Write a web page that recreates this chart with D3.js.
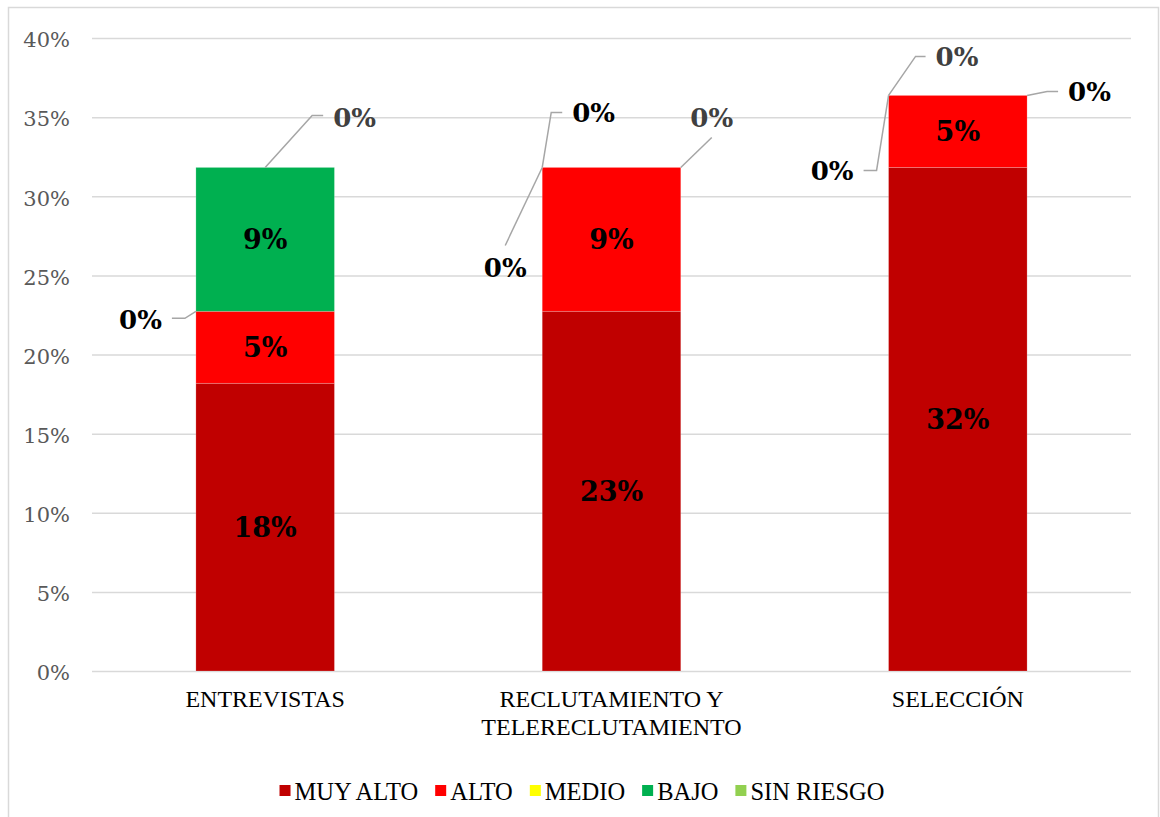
<!DOCTYPE html>
<html>
<head>
<meta charset="utf-8">
<script src="https://cdn.jsdelivr.net/npm/d3@7"></script>
<style>
  html, body { margin: 0; padding: 0; background: #fff; }
  svg { display: block; }
</style>
</head>
<body>
<svg id="chart" width="1160" height="817"></svg>
<script>
// ---------- DATA ----------
const categories = [["ENTREVISTAS"], ["RECLUTAMIENTO Y", "TELERECLUTAMIENTO"], ["SELECCIÓN"]];
const seriesNames = ["MUY ALTO", "ALTO", "MEDIO", "BAJO", "SIN RIESGO"];
const muyAlto   = [0.1818, 0.2273, 0.3182];
const alto      = [0.0455, 0.0909, 0.0455];
const medio     = [0, 0, 0];
const bajo      = [0.0909, 0, 0];
const sinRiesgo = [0, 0, 0];
const yTicks = [0, 0.05, 0.10, 0.15, 0.20, 0.25, 0.30, 0.35, 0.40];

// ---------- STYLE / LAYOUT ----------
const colors = ["#C00000", "#FF0000", "#FFFF00", "#00B050", "#92D050"];
const W = 1160, H = 817;
const plot = { left: 92, right: 1131, top: 38, bottom: 671 };
const serifTNR = "'Liberation Serif', 'Times New Roman', serif";

// placement of the zero-value labels (leader line offsets from anchor point)
// anchor side: 'l' = bar left edge, 'c' = bar centre, 'r' = bar right edge
const zeroLabelLayout = [
  { cat: 0, s: 2, side: "l", pts: [[-11, 7], [-24, 7]], tx: -34, ty: 18, anchor: "end",   color: "#000" },
  { cat: 0, s: 4, side: "c", pts: [[47, -52], [58, -52]], tx: 68, ty: -40, anchor: "start", color: "#404040" },
  { cat: 1, s: 2, side: "l", pts: [[-37, 78]], tx: -37, ty: 110, anchor: "middle", color: "#000" },
  { cat: 1, s: 3, side: "l", pts: [[9, -55], [20, -55]], tx: 30, ty: -45, anchor: "start", color: "#000" },
  { cat: 1, s: 4, side: "r", pts: [[31, -30]], tx: 31, ty: -40, anchor: "middle", color: "#404040" },
  { cat: 2, s: 2, side: "l", pts: [[-12, 75], [-25, 75]], tx: -35, ty: 85, anchor: "end", color: "#000" },
  { cat: 2, s: 4, side: "l", pts: [[27, -39], [37, -39]], tx: 47, ty: -29, anchor: "start", color: "#404040" },
  { cat: 2, s: 3, side: "r", pts: [[20, -4], [31, -4]], tx: 41, ty: 6, anchor: "start", color: "#000" }
];

const svg = d3.select("#chart");

// outer chart border
svg.append("rect")
  .attr("x", 8.5).attr("y", 7.5)
  .attr("width", 1150).attr("height", 830)
  .attr("fill", "none").attr("stroke", "#D9D9D9").attr("stroke-width", 1.5);

// build table
const table = categories.map((c, i) => ({
  key: i,
  "MUY ALTO": muyAlto[i], "ALTO": alto[i], "MEDIO": medio[i], "BAJO": bajo[i], "SIN RIESGO": sinRiesgo[i]
}));
const stacked = d3.stack().keys(seriesNames)(table);

const x = d3.scaleBand().domain(d3.range(categories.length)).range([plot.left, plot.right]).padding(0);
const barW = x.bandwidth() * 0.40;
const bx = i => x(i) + (x.bandwidth() - barW) / 2;
const y = d3.scaleLinear().domain([0, 0.40]).range([plot.bottom, plot.top]);

// gridlines
const grid = svg.append("g")
  .attr("transform", `translate(${plot.left},0)`)
  .call(d3.axisLeft(y).tickValues(yTicks).tickSize(-(plot.right - plot.left)).tickFormat(""));
grid.select(".domain").remove();
grid.selectAll("line").attr("stroke", "#D9D9D9").attr("stroke-width", 1.5);

// y axis labels
const yAxis = svg.append("g")
  .attr("transform", `translate(${plot.left},0)`)
  .call(d3.axisLeft(y).tickValues(yTicks).tickSize(0).tickPadding(22).tickFormat(d3.format(".0%")));
yAxis.select(".domain").remove();
yAxis.selectAll("text")
  .attr("font-family", "'DejaVu Serif', serif")
  .attr("font-size", 21)
  .attr("fill", "#595959")
  .attr("dy", "0.42em");

// bars
const layers = svg.append("g").selectAll("g").data(stacked).join("g")
  .attr("fill", (d, i) => colors[i]);
layers.selectAll("rect").data(d => d).join("rect")
  .attr("x", (d, i) => bx(i))
  .attr("width", barW)
  .attr("y", d => y(d[1]))
  .attr("height", d => y(d[0]) - y(d[1]))
  .attr("stroke", "#ffffff").attr("stroke-opacity", 0.25).attr("stroke-width", 0.75);

// value labels in bars
const fmt = d3.format(".0%");
stacked.forEach((layer, s) => {
  layer.forEach((d, i) => {
    const v = d[1] - d[0];
    if (v > 0) {
      svg.append("text")
        .attr("x", bx(i) + barW / 2)
        .attr("y", (y(d[0]) + y(d[1])) / 2)
        .attr("dy", "0.36em")
        .attr("text-anchor", "middle")
        .attr("font-family", "'DejaVu Serif', serif")
        .attr("font-weight", "bold")
        .attr("font-size", 27)
        .attr("fill", "#000")
        .text(fmt(v));
    }
  });
});

// zero labels with leader lines
zeroLabelLayout.forEach(z => {
  const d = stacked[z.s][z.cat];
  const ax = z.side === "l" ? bx(z.cat) : z.side === "r" ? bx(z.cat) + barW : bx(z.cat) + barW / 2;
  const ay = y(d[1]);
  const pts = [[ax, ay]].concat(z.pts.map(p => [ax + p[0], ay + p[1]]));
  svg.append("path")
    .attr("d", d3.line()(pts))
    .attr("fill", "none").attr("stroke", "#A6A6A6").attr("stroke-width", 1.5);
  svg.append("text")
    .attr("x", ax + z.tx).attr("y", ay + z.ty)
    .attr("text-anchor", z.anchor)
    .attr("font-family", "'DejaVu Serif', serif")
    .attr("font-weight", "bold")
    .attr("font-size", 26)
    .attr("fill", z.color)
    .text(fmt(d[1] - d[0]));
});

// category labels
categories.forEach((lines, i) => {
  const t = svg.append("text")
    .attr("x", x(i) + x.bandwidth() / 2)
    .attr("y", 707)
    .attr("text-anchor", "middle")
    .attr("font-family", serifTNR)
    .attr("font-size", 24)
    .attr("fill", "#000");
  lines.forEach((ln, k) => {
    t.append("tspan").attr("x", x(i) + x.bandwidth() / 2).attr("dy", k === 0 ? 0 : 28).text(ln);
  });
});

// legend
const legendY = 791;
const legend = svg.append("g");
let lx = 0;
const items = [];
seriesNames.forEach((name, i) => {
  const g = legend.append("g");
  g.append("rect").attr("x", 0).attr("y", legendY - 6).attr("width", 11).attr("height", 11).attr("fill", colors[i]);
  const t = g.append("text").attr("x", 15).attr("y", legendY).attr("dy", "0.35em")
    .attr("font-family", serifTNR)
    .attr("font-size", 24.5).attr("fill", "#000").text(name);
  items.push({ g, w: 15 + t.node().getComputedTextLength() });
});
const gap = 17;
const total = d3.sum(items, d => d.w) + gap * (items.length - 1);
lx = (W - total) / 2 + 2;
items.forEach(it => { it.g.attr("transform", `translate(${lx},0)`); lx += it.w + gap; });
</script>
</body>
</html>
